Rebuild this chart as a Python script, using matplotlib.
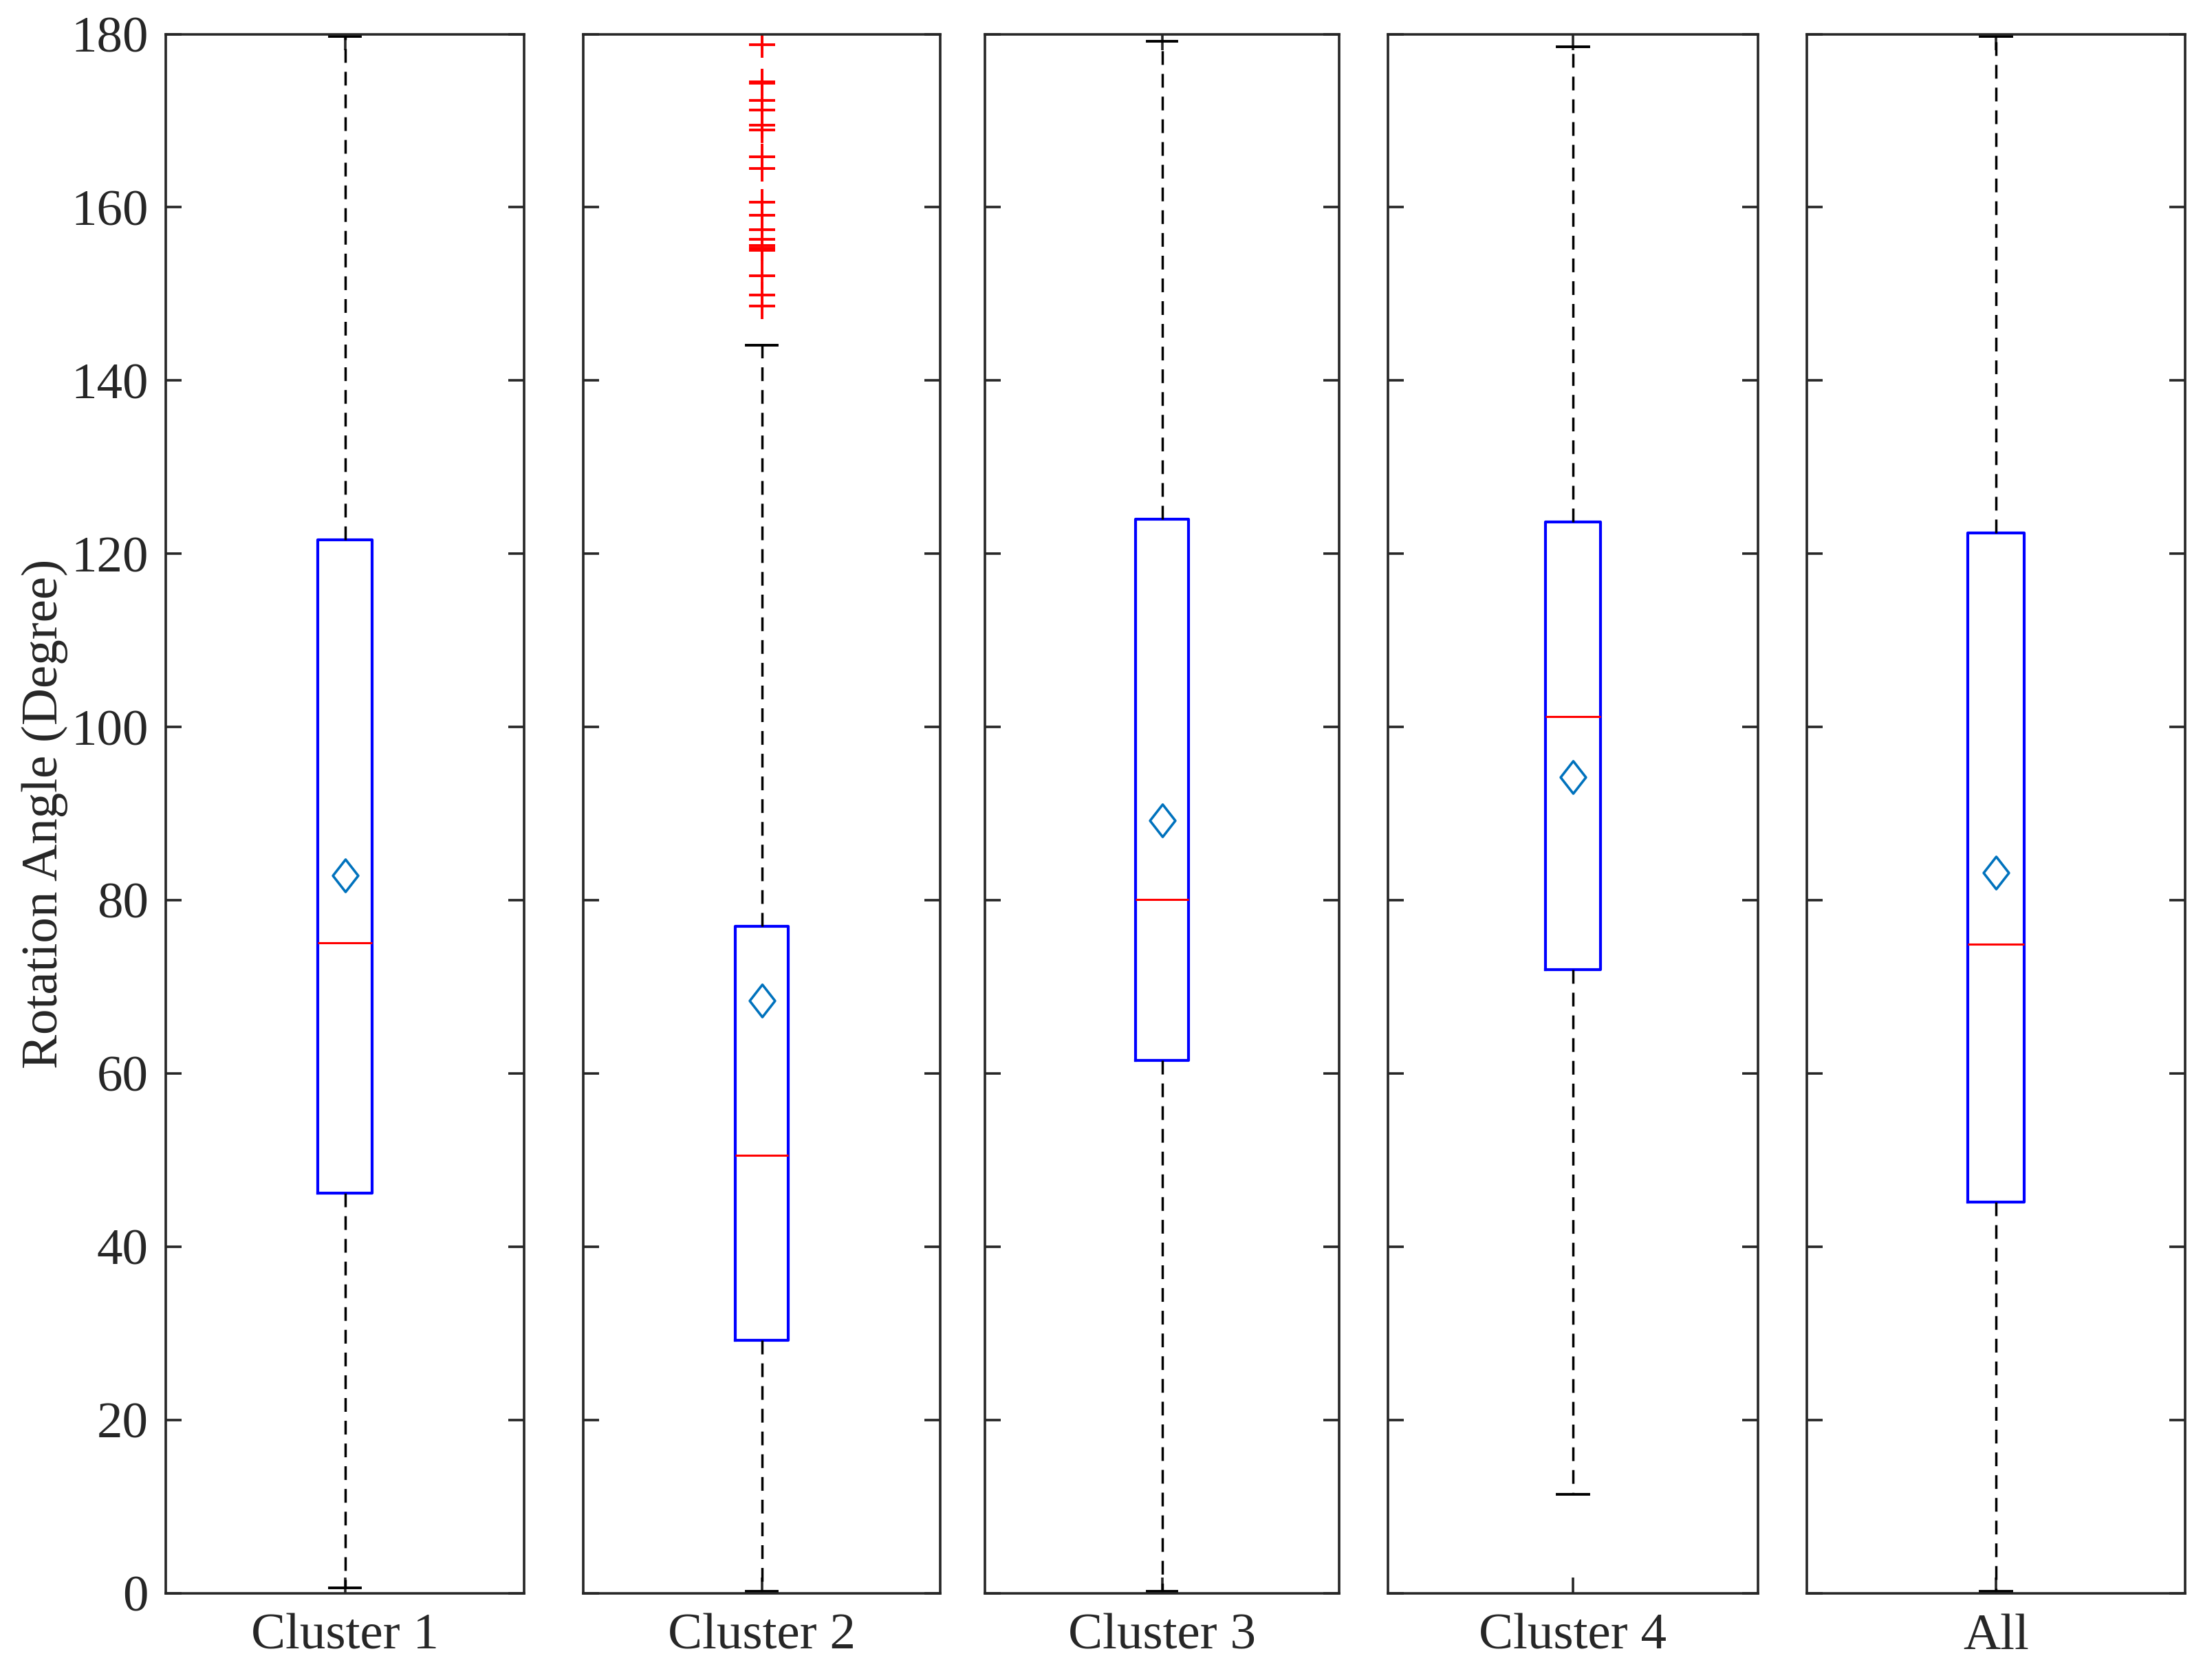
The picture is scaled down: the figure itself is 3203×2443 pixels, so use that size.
import matplotlib
matplotlib.use('Agg')
import matplotlib.pyplot as plt
from matplotlib.path import Path

# ---- data ----
categories = ['Cluster 1', 'Cluster 2', 'Cluster 3', 'Cluster 4', 'All']
whisker_low = [0.6, 0.2, 0.2, 11.4, 0.2]
q1_values = [46.2, 29.2, 61.5, 72.0, 45.2]
median_values = [75.1, 50.6, 80.1, 101.2, 74.9]
q3_values = [121.6, 77.0, 124.0, 123.7, 122.4]
whisker_high = [179.7, 144.1, 179.2, 178.5, 179.7]
mean_values = [82.9, 68.4, 89.2, 94.2, 83.2]
outliers_cluster2 = [178.8, 174.5, 174.3, 172.3, 171.2, 169.5, 168.9, 165.8,
                     164.5, 160.6, 159.1, 157.4, 156.3, 155.6, 155.3, 155.0,
                     152.1, 149.9, 148.6]
outliers = [[], outliers_cluster2, [], [], []]
y_ticks = [0, 20, 40, 60, 80, 100, 120, 140, 160, 180]
y_label = 'Rotation Angle (Degree)'

# ---- layout ----
W, H = 3203, 2443
DPI = 100
lefts_px = [241, 848, 1432, 2018, 2627]
rights_px = [762, 1367, 1947, 2556, 3177]
top_px, bottom_px = 49.5, 2317

plt.rcParams['font.family'] = ['Liberation Serif', 'DejaVu Serif']
text_color = '#262626'
fs = 54

fig = plt.figure(figsize=(W / DPI, H / DPI), dpi=DPI)

diamond = Path([(0, 1), (0.78, 0), (0, -1), (-0.78, 0), (0, 1)],
               [Path.MOVETO, Path.LINETO, Path.LINETO, Path.LINETO, Path.CLOSEPOLY])

lw_w = 2.5
dash = (0, (14.4 / lw_w, 9.4 / lw_w))

for i, cat in enumerate(categories):
    l = lefts_px[i] / W
    r = rights_px[i] / W
    b = 1 - bottom_px / H
    t = 1 - top_px / H
    ax = fig.add_axes([l, b, r - l, t - b])
    stats = [dict(med=median_values[i], q1=q1_values[i], q3=q3_values[i],
                  whislo=whisker_low[i], whishi=whisker_high[i],
                  mean=mean_values[i], fliers=outliers[i], label=cat)]
    ax.bxp(stats, positions=[1], widths=0.15, capwidths=0.085,
           showmeans=True, meanline=False, showfliers=True,
           boxprops=dict(color='blue', linewidth=3.0),
           medianprops=dict(color='red', linewidth=2.2),
           whiskerprops=dict(color='black', linewidth=lw_w, linestyle=dash),
           capprops=dict(color='black', linewidth=2.8),
           flierprops=dict(marker='+', markeredgecolor='red', markersize=28,
                           markeredgewidth=2.8, linestyle='none'),
           meanprops=dict(marker=diamond, markerfacecolor='none',
                          markeredgecolor='#0072BD', markersize=34,
                          markeredgewidth=2.6, linestyle='none'))
    ax.set_xlim(0.5, 1.5)
    ax.set_ylim(0, 180)
    ax.set_yticks(y_ticks)
    ax.set_xticks([1])
    ax.set_xticklabels([cat])
    for sp in ax.spines.values():
        sp.set_color(text_color)
        sp.set_linewidth(2.6)
    ax.tick_params(axis='both', direction='in', length=16.5, width=2.6,
                   color=text_color, labelcolor=text_color, labelsize=fs,
                   top=True, right=True)
    ax.tick_params(axis='y', pad=18)
    ax.tick_params(axis='x', pad=21)
    if i > 0:
        ax.set_yticklabels([])

fig.text(65 / W, 1 - ((top_px + bottom_px) / 2) / H, y_label, rotation=90,
         ha='center', va='center', fontsize=fs, color=text_color)

fig.savefig('out.png', dpi=DPI, facecolor='white')
